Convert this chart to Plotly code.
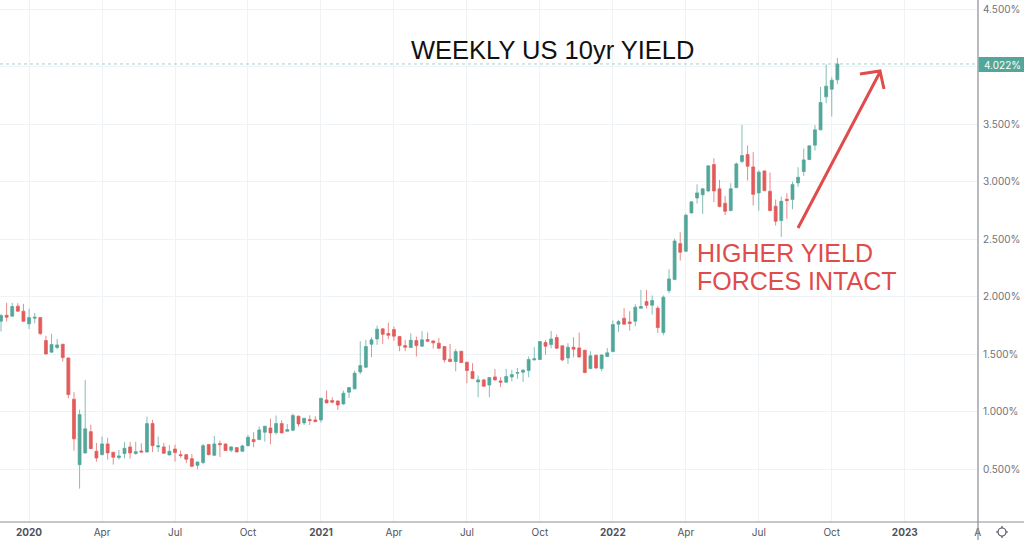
import pandas as pd
import plotly.graph_objects as go

W, H = 1024, 540
weeks = pd.date_range("2019-12-02", periods=150, freq="7D")

opens = [1.785,1.837,1.829,1.916,1.872,1.762,1.811,1.817,1.617,1.516,1.556,1.585,1.466,1.107,.538,.640,.825,.654,.625,.718,
.646,.599,.634,.692,.634,.657,.648,.895,.692,.692,.622,.674,.625,.625,.590,.532,.556,.712,.619,.721,
.718,.663,.686,.654,.703,.756,.756,.820,.857,.817,.895,.828,.837,.959,.901,.930,.927,.927,1.101,1.095,
1.092,1.066,1.168,1.197,1.344,1.385,1.585,1.631,1.719,1.678,1.713,1.652,1.573,1.556,1.617,1.568,1.626,1.614,1.594,1.565,
1.455,1.434,1.524,1.429,1.347,1.257,1.275,1.231,1.301,1.266,1.255,1.301,1.333,1.342,1.356,1.449,1.452,1.600,1.582,1.643,
1.571,1.466,1.559,1.553,1.533,1.373,1.489,1.373,1.478,1.521,1.759,1.811,1.779,1.785,1.898,1.956,1.924,1.898,1.687,2.051,
2.147,2.460,2.393,2.727,2.857,2.884,2.918,3.147,2.936,2.811,2.747,2.947,3.174,3.234,3.127,2.901,3.092,2.915,2.785,2.660,
2.846,2.843,2.988,3.087,3.191,3.316,3.449,3.736,3.803,3.884]
highs = [1.849,1.945,1.945,1.942,1.936,1.895,1.858,1.820,1.658,1.675,1.631,1.588,1.466,1.168,1.017,1.275,.886,.727,.782,.770,
.646,.666,.735,.735,.738,.724,.956,.927,.782,.727,.709,.712,.660,.631,.631,.563,.718,.718,.788,.747,
.720,.698,.688,.712,.796,.820,.869,.875,.938,.965,.924,.892,.982,.965,.944,.967,.959,1.118,1.182,1.124,
1.095,1.182,1.211,1.356,1.611,1.623,1.646,1.747,1.722,1.771,1.739,1.655,1.623,1.681,1.652,1.698,1.687,1.617,1.640,1.568,
1.588,1.544,1.527,1.431,1.420,1.312,1.284,1.298,1.370,1.298,1.370,1.362,1.379,1.370,1.478,1.559,1.611,1.623,1.701,1.669,
1.574,1.594,1.646,1.687,1.536,1.524,1.495,1.495,1.553,1.791,1.797,1.898,1.872,1.933,2.058,2.058,2.009,1.916,2.009,2.237,
2.504,2.559,2.721,2.826,2.976,2.942,3.139,3.203,3.014,2.875,2.985,3.165,3.493,3.313,3.255,3.098,3.095,3.078,2.843,2.869,
2.898,2.999,3.124,3.287,3.313,3.490,3.823,4.017,3.907,4.075]
lows = [1.695,1.782,1.825,1.869,1.779,1.716,1.768,1.666,1.495,1.513,1.542,1.434,1.115,.660,.329,.634,.672,.564,.619,.582,
.538,.582,.593,.590,.625,.643,.643,.648,.648,.631,.619,.564,.596,.550,.515,.498,.541,.619,.617,.605,
.657,.646,.646,.648,.698,.689,.750,.738,.715,.799,.811,.825,.828,.869,.883,.883,.907,.904,1.072,1.072,
1.014,1.060,1.118,1.194,1.324,1.379,1.472,1.579,1.588,1.629,1.614,1.524,1.524,1.553,1.478,1.562,1.605,1.547,1.544,1.426,
1.429,1.350,1.423,1.246,1.284,1.124,1.217,1.124,1.269,1.211,1.252,1.263,1.284,1.257,1.298,1.443,1.449,1.495,1.550,1.544,
1.437,1.414,1.472,1.466,1.333,1.368,1.368,1.350,1.475,1.518,1.690,1.756,1.704,1.742,1.895,1.895,1.843,1.684,1.663,2.028,
2.144,2.312,2.388,2.721,2.808,2.718,2.907,2.820,2.776,2.707,2.741,2.942,3.159,3.008,2.791,2.747,2.915,2.741,2.617,2.518,
2.675,2.759,2.953,3.049,3.185,3.269,3.446,3.681,3.565,3.846]
closes = [1.834,1.820,1.913,1.872,1.785,1.817,1.820,1.678,1.501,1.582,1.579,1.469,1.147,.762,.973,.849,.677,.596,.718,.640,
.602,.614,.680,.640,.651,.648,.895,.703,.701,.637,.654,.643,.617,.585,.524,.561,.703,.625,.718,.712,
.660,.692,.648,.701,.776,.738,.840,.872,.814,.895,.814,.843,.965,.892,.941,.921,.912,1.115,1.075,1.081,
1.057,1.159,1.208,1.333,1.399,1.565,1.623,1.716,1.672,1.663,1.655,1.573,1.559,1.620,1.573,1.623,1.611,1.597,1.550,1.449,
1.434,1.521,1.426,1.356,1.286,1.275,1.220,1.295,1.275,1.255,1.304,1.321,1.339,1.359,1.452,1.458,1.608,1.568,1.631,1.550,
1.449,1.559,1.542,1.475,1.339,1.484,1.379,1.492,1.510,1.756,1.782,1.759,1.765,1.907,1.913,1.924,1.965,1.730,1.994,2.153,
2.483,2.385,2.707,2.823,2.901,2.936,3.136,2.918,2.782,2.741,2.936,3.153,3.226,3.133,2.889,3.081,2.921,2.747,2.654,2.828,
2.834,2.973,3.037,3.188,3.310,3.449,3.687,3.829,3.881,4.022]

x_tick_dates = ["2020-01-06","2020-04-06","2020-07-06","2020-10-05","2021-01-04","2021-04-05","2021-07-05",
                "2021-10-04","2022-01-03","2022-04-04","2022-07-04","2022-10-03","2023-01-02","2023-04-03"]
x_tick_text = ["<b>2020</b>","Apr","Jul","Oct","<b>2021</b>","Apr","Jul","Oct","<b>2022</b>","Apr","Jul","Oct","<b>2023</b>","A"]
y_ticks = [0.5,1.0,1.5,2.0,2.5,3.0,3.5,4.0,4.5]
y_tick_text = ["0.500%","1.000%","1.500%","2.000%","2.500%","3.000%","3.500%","","4.500%"]
last_value = closes[-1]
last_label = "4.022%"

GREEN, RED = "#53A69A", "#E25C5C"
GREEN_WICK, RED_WICK = "rgba(83,166,154,0.72)", "rgba(226,92,92,0.72)"
GRID, AXIS, LABEL = "#EFF3F6", "#8A8D96", "#6F727B"
px = lambda x: x / W
py = lambda y: 1 - y / H

fig = go.Figure(go.Candlestick(
    x=weeks, open=opens, high=highs, low=lows, close=closes,
    increasing=dict(line=dict(color=GREEN_WICK, width=1), fillcolor=GREEN),
    decreasing=dict(line=dict(color=RED_WICK, width=1), fillcolor=RED),
    whiskerwidth=0, showlegend=False, hoverinfo="skip"))

shapes = [
    dict(type="line", xref="paper", yref="y", x0=0, x1=px(978), y0=last_value, y1=last_value,
         line=dict(color="#8CC7BE", width=0.8, dash="dot")),
    dict(type="line", xref="paper", yref="paper", x0=0, x1=1, y0=py(522), y1=py(522), line=dict(color=AXIS, width=1.2)),
    dict(type="line", xref="paper", yref="paper", x0=px(978), x1=px(978), y0=0, y1=1, line=dict(color=AXIS, width=1.2)),
    dict(type="rect", xref="paper", yref="paper", x0=px(978.5), x1=1, y0=py(72), y1=py(57),
         fillcolor=GREEN, line=dict(width=0)),
    # hand-drawn arrow
    dict(type="path", xref="paper", yref="paper",
         path=f"M {px(798)} {py(228)} L {px(880)} {py(72)} M {px(860)} {py(74)} L {px(880)} {py(71)} L {px(884)} {py(89)}",
         line=dict(color="#E04B4B", width=3)),
    # settings icon
    dict(type="circle", xref="paper", yref="paper", x0=px(998), x1=px(1006), y0=py(536), y1=py(528),
         line=dict(color="#50535E", width=1.2)),
]
for a, b, c, d in [(1002,526,1002,528),(1002,536,1002,538),(996,532,998,532),(1006,532,1008,532)]:
    shapes.append(dict(type="line", xref="paper", yref="paper", x0=px(a), x1=px(c), y0=py(b), y1=py(d),
                       line=dict(color="#50535E", width=1.2)))

annotations = [
    dict(text="WEEKLY US 10yr YIELD", x=px(552.5), y=py(50), font=dict(family="Liberation Sans", size=25.5, color="#111111"),
         xanchor="center"),
    dict(text="HIGHER YIELD", x=px(695), y=py(253), font=dict(family="Liberation Sans", size=25, color="#E04B4B"),
         xanchor="left"),
    dict(text="FORCES INTACT", x=px(695), y=py(281), font=dict(family="Liberation Sans", size=25, color="#E04B4B"),
         xanchor="left"),
    dict(text=last_label, x=px(1002.5), y=py(64.5), font=dict(family="Inter", size=10, color="#FFFFFF"),
         xanchor="center"),
]
for a in annotations:
    a.update(xref="paper", yref="paper", yanchor="middle", showarrow=False)

fig.update_layout(
    width=W, height=H, margin=dict(l=0, r=0, t=0, b=0, autoexpand=False), paper_bgcolor="#FFFFFF", plot_bgcolor="#FFFFFF",
    boxgap=0.25, shapes=shapes, annotations=annotations, showlegend=False,
    xaxis=dict(domain=[0, 978 / W], range=["2019-11-30 18:00", "2023-04-03 08:00"], rangeslider=dict(visible=False),
               tickmode="array", tickvals=x_tick_dates, ticktext=x_tick_text, ticks="", showline=False,
               showgrid=True, gridcolor=GRID, gridwidth=1, zeroline=False, ticklabelstandoff=3,
               tickfont=dict(family="Inter", size=10, color="#50535E")),
    yaxis=dict(domain=[1 - 522 / H, 1], range=[4.5 - (522 - 9) / 115, 4.5 + 9 / 115], side="right", anchor="x",
               tickmode="array", tickvals=y_ticks, ticktext=y_tick_text, ticks="", showline=False,
               showgrid=True, gridcolor=GRID, gridwidth=1, zeroline=False, ticklabelstandoff=4,
               tickfont=dict(family="Inter", size=10, color=LABEL)),
)
fig.write_html("out.html", config=dict(displayModeBar=False),
               post_script="document.body.style.margin='0';document.documentElement.style.overflow='hidden';")
